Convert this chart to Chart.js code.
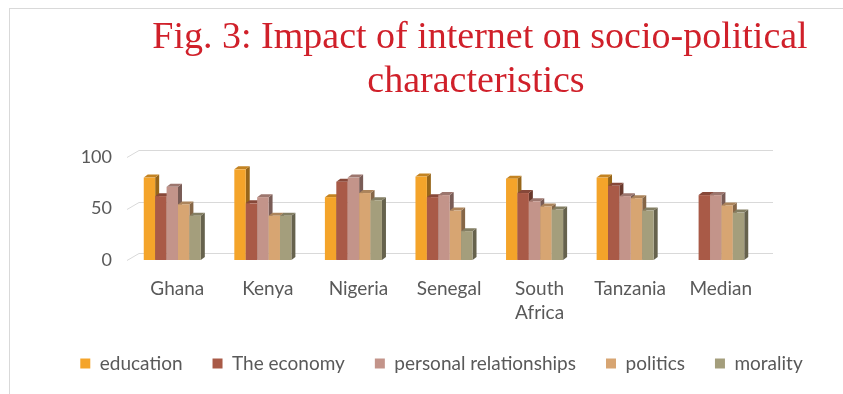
<!DOCTYPE html>
<html>
<head>
<meta charset="utf-8">
<script src="https://cdn.jsdelivr.net/npm/chart.js@4.4.1/dist/chart.umd.min.js"></script>
<style>
html, body { margin: 0; padding: 0; background: #fff; }
#wrap { position: relative; width: 843px; height: 394px; }
#frame { position: absolute; left: 9px; top: 8px; right: 0; bottom: 0; border-left: 1px solid #d9d9d9; border-top: 1px solid #d9d9d9; }
canvas { position: absolute; left: 0; top: 0; }
</style>
</head>
<body>
<div id="wrap"><div id="frame"></div><canvas id="chart" width="843" height="394"></canvas></div>
<script>
// data
var countries = ['Ghana', 'Kenya', 'Nigeria', 'Senegal', ['South', 'Africa'], 'Tanzania', 'Median'];
var education = [80, 88, 61, 81, 79, 80, null];
var economy = [62, 55, 76, 61, 65, 72, 63];
var relationships = [71, 61, 80, 63, 57, 62, 63];
var politics = [54, 43, 65, 48, 52, 60, 53];
var morality = [43, 43, 58, 28, 49, 48, 46];
var series_names = ['education', 'The economy', 'personal relationships', 'politics', 'morality'];
var y_ticks = [0, 50, 100];
var title_lines = ['Fig. 3: Impact of internet on socio-political', 'characteristics'];

var colors = ['#f4a42a', '#a95a47', '#c3948a', '#d7a572', '#a49e7c'];
var txt = '#595959';
var wall = {dx: 12, dy: 7};   // depth of back wall
var depth = {dx: 4, dy: 3};   // depth of each bar

function shade(hex, f) {
    var n = parseInt(hex.slice(1), 16);
    var r = Math.round(((n >> 16) & 255) * f);
    var g = Math.round(((n >> 8) & 255) * f);
    var b = Math.round((n & 255) * f);
    return 'rgb(' + r + ',' + g + ',' + b + ')';
}

// fake 3d: back wall grid + bars with top and side faces, drawn left to right
const bars3d = {
    id: 'bars3d',
    beforeDatasetsDraw(chart) {
        const ctx = chart.ctx, area = chart.chartArea, ys = chart.scales.y;
        ctx.save();
        ctx.strokeStyle = '#d9d9d9';
        ctx.lineWidth = 1;
        y_ticks.forEach(function(v) {
            var y = Math.round(ys.getPixelForValue(v)) + 0.5;
            ctx.beginPath();
            ctx.moveTo(area.left, y);
            ctx.lineTo(area.left + wall.dx, y - wall.dy);
            ctx.lineTo(area.right + wall.dx, y - wall.dy);
            ctx.stroke();
        });
        chart.data.datasets.forEach(function(ds, i) {
            var meta = chart.getDatasetMeta(i);
            if (meta.hidden) return;
            meta.data.forEach(function(bar, j) {
                if (ds.data[j] == null) return;
                var p = bar.getProps(['x', 'y', 'base', 'width'], true);
                var l = p.x - p.width / 2, r = p.x + p.width / 2, t = p.y, b = p.base;
                ctx.fillStyle = shade(ds.backgroundColor, 0.62);
                ctx.beginPath();
                ctx.moveTo(r, t);
                ctx.lineTo(r + depth.dx, t - depth.dy);
                ctx.lineTo(r + depth.dx, b - depth.dy);
                ctx.lineTo(r, b);
                ctx.closePath();
                ctx.fill();
                ctx.fillStyle = shade(ds.backgroundColor, 0.8);
                ctx.beginPath();
                ctx.moveTo(l, t);
                ctx.lineTo(l + depth.dx, t - depth.dy);
                ctx.lineTo(r + depth.dx, t - depth.dy);
                ctx.lineTo(r, t);
                ctx.closePath();
                ctx.fill();
                ctx.fillStyle = ds.backgroundColor;
                ctx.fillRect(l, t, r - l, b - t);
            });
        });
        ctx.restore();
        return false;
    }
};

const figTitle = {
    id: 'figTitle',
    afterDraw(chart) {
        const ctx = chart.ctx;
        ctx.save();
        ctx.fillStyle = '#d0202a';
        ctx.font = '38px "Liberation Serif"';
        ctx.textAlign = 'center';
        ctx.textBaseline = 'alphabetic';
        ctx.fillText(title_lines[0], 480, 48);
        ctx.fillText(title_lines[1], 476, 92);
        ctx.restore();
    }
};

var all_series = [education, economy, relationships, politics, morality];
var datasets = [];
for (var i = 0; i < all_series.length; i++) {
    datasets.push({
        label: series_names[i],
        data: all_series[i],
        backgroundColor: colors[i],
        borderWidth: 0
    });
}

const ctx = document.getElementById('chart').getContext('2d');
const chart = new Chart(ctx, {
    type: 'bar',
    data: {
        labels: countries,
        datasets: datasets
    },
    options: {
        responsive: false,
        animation: false,
        categoryPercentage: 0.63,
        barPercentage: 1.0,
        layout: {
            padding: {top: 157, left: 40, right: 0, bottom: 11}
        },
        plugins: {
            legend: {
                position: 'bottom',
                labels: {
                    boxWidth: 10,
                    boxHeight: 10,
                    padding: 30,
                    color: txt,
                    font: {family: 'Lato', size: 19}
                }
            },
            tooltip: {enabled: false},
            title: {display: false}
        },
        scales: {
            x: {
                grid: {display: false, drawTicks: false, tickLength: 0},
                border: {display: false},
                afterFit: function(scale) { scale.height = 64; },
                ticks: {
                    color: txt,
                    padding: 17,
                    labelOffset: 5,
                    maxRotation: 0,
                    font: {family: 'Lato', size: 19, lineHeight: 1.25}
                }
            },
            y: {
                min: 0,
                max: 100,
                grid: {display: false, drawTicks: false, tickLength: 0},
                border: {display: false},
                afterFit: function(scale) { scale.width = 87; },
                ticks: {
                    stepSize: 50,
                    color: txt,
                    padding: 15,
                    font: {family: 'Lato', size: 18}
                }
            },
            right_gap: {
                position: 'right',
                grid: {display: false, drawTicks: false},
                border: {display: false},
                ticks: {display: false},
                afterFit: function(scale) { scale.width = 82; }
            }
        }
    },
    plugins: [bars3d, figTitle]
});
</script>
</body>
</html>
